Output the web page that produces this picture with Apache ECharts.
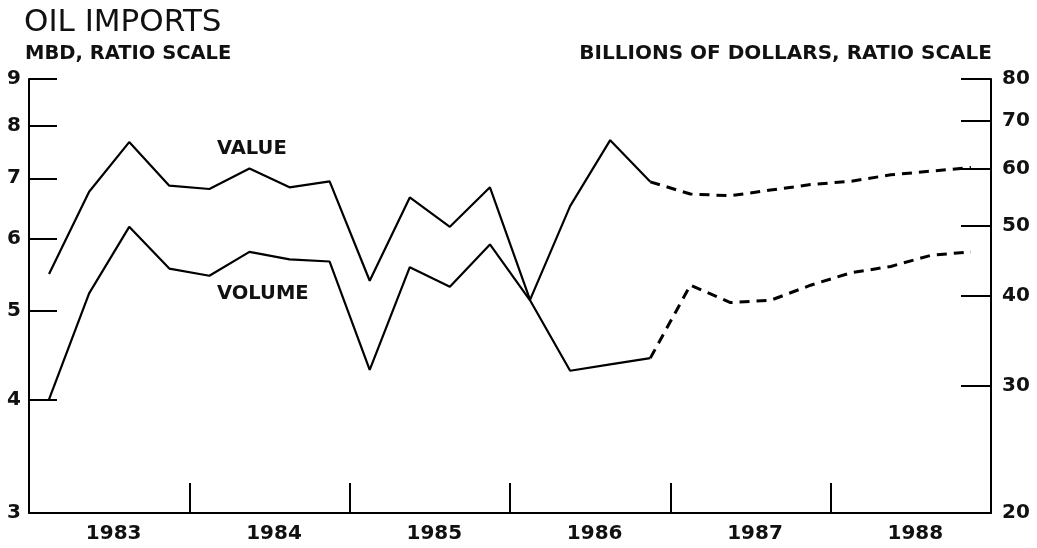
<!DOCTYPE html>
<html>
<head>
<meta charset="utf-8">
<script src="https://cdn.jsdelivr.net/npm/echarts@6/dist/echarts.min.js"></script>
<style>
html,body{margin:0;padding:0;background:#fff;}
#chart{width:1037px;height:548px;}
</style>
</head>
<body>
<div id="chart"></div>
<script>
const quarters = [
  '1983Q1','1983Q2','1983Q3','1983Q4',
  '1984Q1','1984Q2','1984Q3','1984Q4',
  '1985Q1','1985Q2','1985Q3','1985Q4',
  '1986Q1','1986Q2','1986Q3','1986Q4',
  '1987Q1','1987Q2','1987Q3','1987Q4',
  '1988Q1','1988Q2','1988Q3','1988Q4'
];
const years = ['1983','1984','1985','1986','1987','1988'];
// VALUE, billions of dollars (right axis): actual 1983Q1–1986Q4, projected 1986Q4–1988Q4
const valueActual = [42.9, 55.8, 65.4, 56.9, 56.3, 60.1, 56.6, 57.7, 42.0, 54.8, 49.9, 56.6, 39.5, 53.3, 65.8, 57.6];
const valueProjected = [57.6, 55.4, 55.1, 56.1, 57.1, 57.7, 58.9, 59.6, 60.3];
// VOLUME, MBD (left axis)
const volumeActual = [4.0, 5.23, 6.19, 5.57, 5.47, 5.81, 5.70, 5.67, 4.31, 5.59, 5.32, 5.92, 5.14, 4.30, 4.37, 4.44];
const volumeProjected = [4.44, 5.34, 5.11, 5.14, 5.34, 5.51, 5.60, 5.76, 5.81];
const leftTicks = [3, 4, 5, 6, 7, 8, 9];
const rightTicks = [20, 30, 40, 50, 60, 70, 80];

function pad(arr, total) {
  const out = new Array(total - arr.length).fill(null);
  return out.concat(arr);
}

const FONT = 'DejaVu Sans';
const chart = echarts.init(document.getElementById('chart'));
const axisLineStyle = { color: '#000', width: 2 };

chart.setOption({
  backgroundColor: '#fff',
  animation: false,
  title: [
    { text: 'OIL IMPORTS', left: 24, top: 7, padding: 0,
      textStyle: { fontFamily: FONT, fontWeight: 'normal', fontSize: 31, color: '#111' } },
    { text: 'MBD, RATIO SCALE', left: 25, top: 44, padding: 0,
      textStyle: { fontFamily: FONT, fontWeight: 'bold', fontSize: 19.5, color: '#111' } },
    { text: 'BILLIONS OF DOLLARS, RATIO SCALE', right: 45, top: 44, padding: 0,
      textStyle: { fontFamily: FONT, fontWeight: 'bold', fontSize: 20, color: '#111' } },
    { text: 'VALUE', left: 217, top: 139, padding: 0,
      textStyle: { fontFamily: FONT, fontWeight: 'bold', fontSize: 19.5, color: '#111' } },
    { text: 'VOLUME', left: 217, top: 284, padding: 0,
      textStyle: { fontFamily: FONT, fontWeight: 'bold', fontSize: 19.5, color: '#111' } }
  ],
  grid: { left: 29, right: 46, top: 79, bottom: 35, containLabel: false },
  xAxis: [
    {
      type: 'category', data: quarters, boundaryGap: true, show: false
    },
    {
      type: 'category', data: years, boundaryGap: true, position: 'bottom',
      axisLine: { show: true, lineStyle: axisLineStyle },
      axisTick: { show: true, inside: true, length: 30, interval: 0, lineStyle: { color: '#000', width: 2 } },
      axisLabel: { show: true, interval: 0, margin: 11, padding: [0, 0, 0, 9],
        fontFamily: FONT, fontWeight: 'bold', fontSize: 20, color: '#111' },
      splitLine: { show: false }
    }
  ],
  yAxis: [
    {
      type: 'log', logBase: 10, min: 3, max: 9, position: 'left',
      axisLine: { show: true, lineStyle: axisLineStyle },
      axisTick: { show: true, inside: true, length: 28, customValues: leftTicks, lineStyle: { color: '#000', width: 2 } },
      axisLabel: { show: true, margin: 8, customValues: leftTicks,
        fontFamily: FONT, fontWeight: 'bold', fontSize: 20, color: '#111' },
      splitLine: { show: false }
    },
    {
      type: 'log', logBase: 10, min: 20, max: 80, position: 'right',
      axisLine: { show: true, lineStyle: axisLineStyle },
      axisTick: { show: true, inside: true, length: 30, customValues: rightTicks, lineStyle: { color: '#000', width: 2 } },
      axisLabel: { show: true, margin: 11, customValues: rightTicks,
        fontFamily: FONT, fontWeight: 'bold', fontSize: 20, color: '#111' },
      splitLine: { show: false }
    }
  ],
  series: [
    { name: 'Value', type: 'line', xAxisIndex: 0, yAxisIndex: 1, data: valueActual,
      symbol: 'none', lineStyle: { color: '#000', width: 2.2 } },
    { name: 'Value projected', type: 'line', xAxisIndex: 0, yAxisIndex: 1,
      data: pad(valueProjected, quarters.length),
      symbol: 'none', lineStyle: { color: '#000', width: 3, type: [10, 7] } },
    { name: 'Volume', type: 'line', xAxisIndex: 0, yAxisIndex: 0, data: volumeActual,
      symbol: 'none', lineStyle: { color: '#000', width: 2.2 } },
    { name: 'Volume projected', type: 'line', xAxisIndex: 0, yAxisIndex: 0,
      data: pad(volumeProjected, quarters.length),
      symbol: 'none', lineStyle: { color: '#000', width: 3, type: [10, 7] } }
  ]
});
</script>
</body>
</html>
